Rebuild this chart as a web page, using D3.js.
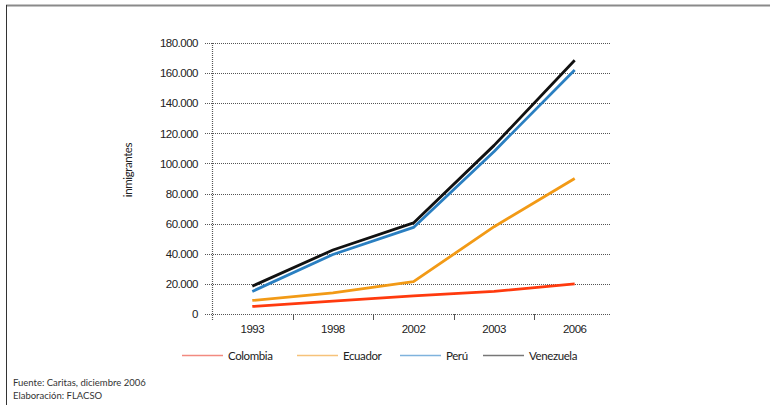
<!DOCTYPE html>
<html><head><meta charset="utf-8">
<script src="https://cdn.jsdelivr.net/npm/d3@7"></script>
<style>body{margin:0;background:#fff}svg{display:block;font-family:Lato,"Open Sans",sans-serif}</style>
</head><body><svg id="c" width="770" height="405"></svg>
<script>
const years = ["1993","1998","2002","2003","2006"];
const colombia = [5000, 8500, 12000, 15000, 20000];
const ecuador = [9000, 14000, 21500, 58000, 90000];
const peru = [15000, 39500, 57500, 108000, 162000];
const venezuela = [18500, 42500, 60500, 112000, 168500];
const seriesNames = ["Colombia","Ecuador","Perú","Venezuela"];
const yTicks = [0,20000,40000,60000,80000,100000,120000,140000,160000,180000];

const lineColors = ["#ff3a0e","#f29a16","#2a7fc1","#111111"];
const legendColors = ["#f28a80","#f6c27a","#7fb3dd","#777777"];
const seriesData = [colombia, ecuador, peru, venezuela];

const svg = d3.select("#c");
// frame
svg.append("line").attr("x1",6).attr("x2",770).attr("y1",5.5).attr("y2",5.5).attr("stroke","#8a8a8a").attr("stroke-width",2);
svg.append("line").attr("x1",6.5).attr("x2",6.5).attr("y1",5).attr("y2",405).attr("stroke","#333").attr("stroke-width",1);

const x = d3.scaleBand().domain(years).range([212,615]);
const y = d3.scaleLinear().domain([0,180000]).range([314,43]);

const fmt = d => d3.format(",")(d).replace(/,/g,".");
// gridlines
const gy = svg.append("g").attr("transform","translate(205,0)");
yTicks.forEach(t=>{
  gy.append("line").attr("x1",0).attr("x2",405).attr("y1",Math.round(y(t))+0.5).attr("y2",Math.round(y(t))+0.5)
    .attr("stroke","#555").attr("stroke-width",1.2).attr("stroke-dasharray","1,1");
});
const gyl = svg.append("g").attr("transform","translate(212,0)").call(d3.axisLeft(y).tickValues(yTicks).tickFormat(fmt).tickSize(0).tickPadding(14));
gyl.select(".domain").remove();
gyl.selectAll("text").attr("font-size",11.5).attr("fill","#222").attr("letter-spacing","-0.5");

// y axis vertical dotted line
svg.append("line").attr("x1",212.5).attr("x2",212.5).attr("y1",43).attr("y2",320).attr("stroke","#555").attr("stroke-width",1.2).attr("stroke-dasharray","1,1");

// x axis ticks at band boundaries
const gx = svg.append("g").attr("transform","translate(0,314)").call(d3.axisBottom(x).tickSize(0).tickPadding(11));
gx.select(".domain").remove();
gx.selectAll("text").attr("font-size",11.5).attr("fill","#222").attr("letter-spacing","-0.5");
years.forEach((yr,i)=>{
  if(i>0){
    const bx = Math.round(x(yr))+0.5;
    svg.append("line").attr("x1",bx).attr("x2",bx).attr("y1",314).attr("y2",320).attr("stroke","#555");
  }
});

// y label
svg.append("text").attr("transform","translate(132,170) rotate(-90)").attr("text-anchor","middle")
  .attr("font-size",11.5).attr("fill","#222").attr("letter-spacing","-0.4").text("inmigrantes");

// lines
const line = d3.line().x((d,i)=>x(years[i])+x.bandwidth()/2).y(d=>y(d));
seriesData.forEach((s,i)=>{
  svg.append("path").datum(s).attr("d",line).attr("fill","none")
    .attr("stroke",lineColors[i]).attr("stroke-width",2.8).attr("stroke-linejoin","round");
});

// legend
const legX = [182,297,400,483];
const lg = svg.append("g");
seriesNames.forEach((n,i)=>{
  lg.append("line").attr("x1",legX[i]).attr("x2",legX[i]+41).attr("y1",355.5).attr("y2",355.5)
    .attr("stroke",legendColors[i]).attr("stroke-width",1.5);
  lg.append("text").attr("x",legX[i]+46).attr("y",359.5).attr("font-size",11.5).attr("fill","#222")
    .attr("letter-spacing","-0.4").text(n);
});

// footnotes
svg.append("text").attr("x",13).attr("y",386).attr("font-size",9.5).attr("fill","#333").text("Fuente: Caritas, diciembre 2006");
svg.append("text").attr("x",13).attr("y",399).attr("font-size",9.5).attr("fill","#333").text("Elaboración: FLACSO");
</script></body></html>
